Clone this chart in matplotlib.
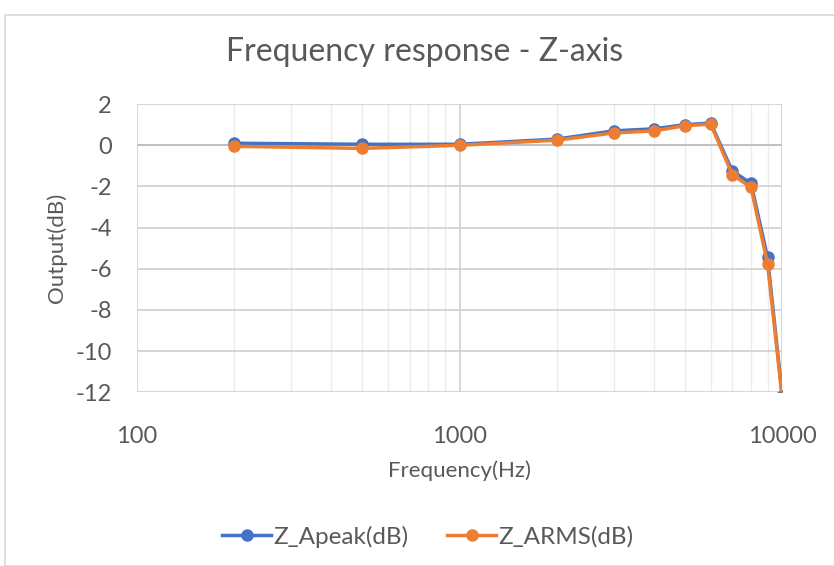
import matplotlib.pyplot as plt
from matplotlib.patches import Rectangle
from matplotlib.ticker import LogLocator, NullFormatter, FixedLocator

freq = [200, 500, 1000, 2000, 3000, 4000, 5000, 6000, 7000, 8000, 9000, 10000]
apeak = [0.1, 0.05, 0.05, 0.3, 0.7, 0.8, 1.0, 1.08, -1.25, -1.85, -5.45, -12.2]
arms = [-0.05, -0.15, 0.0, 0.25, 0.6, 0.7, 0.95, 1.03, -1.42, -2.05, -5.75, -12.3]

plt.rcParams['font.family'] = ['Lato', 'DejaVu Sans']
plt.rcParams['axes.unicode_minus'] = False
grey = '#595959'

fig = plt.figure(figsize=(8.34, 5.66), dpi=100)
ax = fig.add_axes([0.164, 0.307, 0.774, 0.509])

# chart border like the Excel frame
fig.patches.append(Rectangle((5 / 834, 0.0), 1.0, 1 - 15 / 566, transform=fig.transFigure,
                             fill=False, edgecolor='#d9d9d9', linewidth=1.2))

ax.plot(freq, apeak, color='#4472c4', lw=2.5, marker='o', ms=8, label='Z_Apeak(dB)', zorder=3)
ax.plot(freq, arms, color='#ed7d31', lw=2.5, marker='o', ms=8, label='Z_ARMS(dB)', zorder=4)

ax.set_xscale('log')
ax.set_xlim(100, 10000)
ax.set_ylim(-12, 2)
ax.yaxis.set_major_locator(FixedLocator(range(-12, 3, 2)))
ax.xaxis.set_major_locator(FixedLocator([100, 1000, 10000]))
ax.xaxis.set_major_formatter(plt.FuncFormatter(lambda v, p: f'{int(v)}'))
ax.xaxis.set_minor_locator(LogLocator(base=10, subs=range(2, 10)))
ax.xaxis.set_minor_formatter(NullFormatter())

ax.grid(True, which='major', color='#d0d0d0', lw=1.2)
ax.grid(True, which='minor', axis='x', color='#ececec', lw=1.0)
ax.axhline(0, color='#bfbfbf', lw=1.3, zorder=2)
for s in ax.spines.values():
    s.set_visible(False)
ax.tick_params(which='both', length=0, labelsize=17, colors=grey)
ax.tick_params(axis='x', pad=24)
ax.tick_params(axis='y', pad=18)

fig.text(425 / 834, 1 - 52 / 566, 'Frequency response - Z-axis', fontsize=23, color=grey,
         ha='center', va='center')
ax.set_xlabel('Frequency(Hz)', fontsize=16, color=grey, labelpad=10)
ax.set_ylabel('Output(dB)', fontsize=16, color=grey, labelpad=6)

fig.legend(loc='center', bbox_to_anchor=(428 / 834, 0.052), ncol=2, frameon=False,
           fontsize=17.5, labelcolor=grey, handlelength=2.0, handletextpad=0.1, columnspacing=1.6)

fig.savefig('out.png', dpi=100)
